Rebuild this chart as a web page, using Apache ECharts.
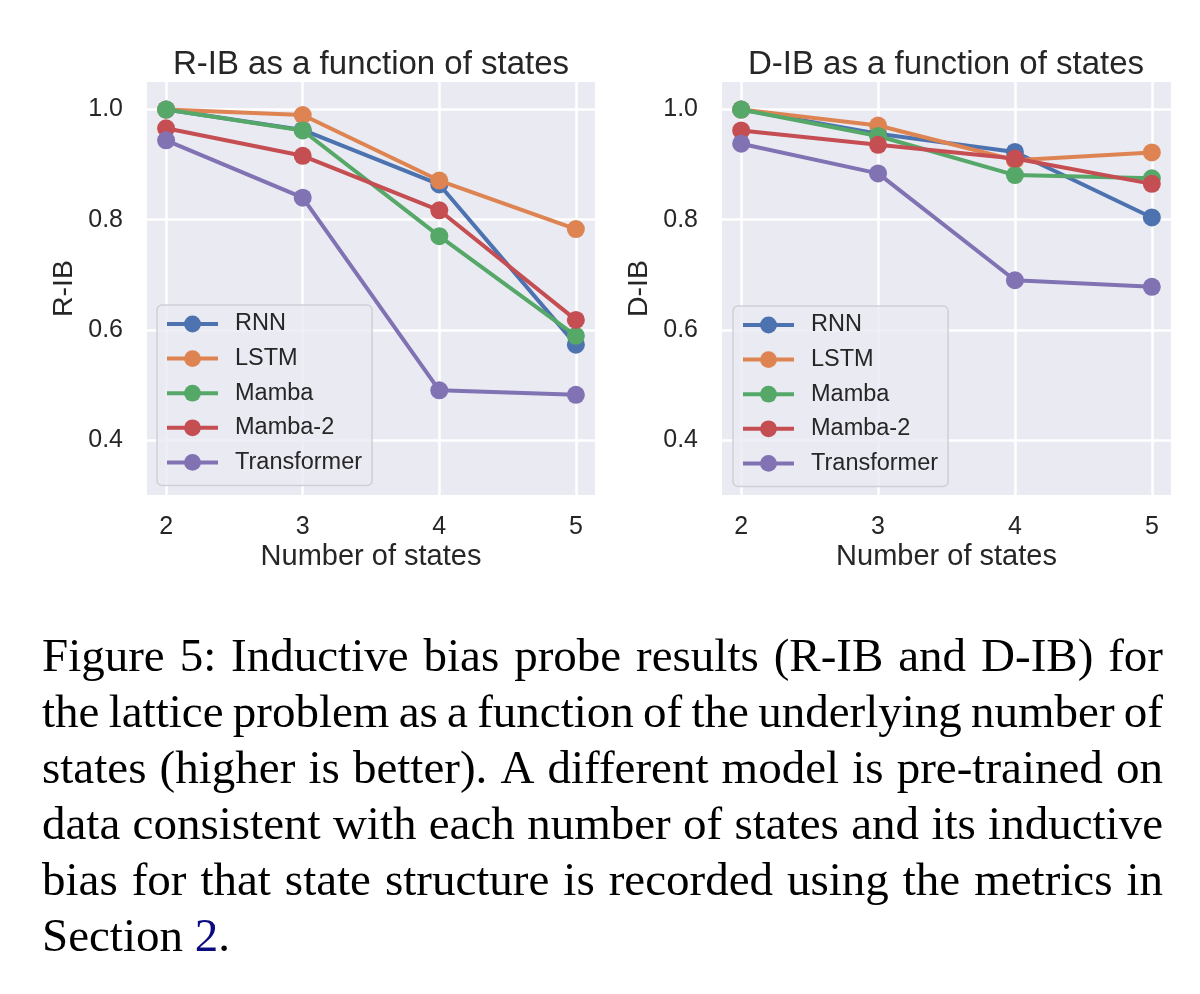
<!DOCTYPE html>
<html>
<head>
<meta charset="utf-8">
<title>Figure 5</title>
<script src="https://cdn.jsdelivr.net/npm/echarts@6/dist/echarts.min.js"></script>
<style>
  html, body { margin: 0; padding: 0; background: #fff; }
  #main { width: 1200px; height: 994px; }
</style>
</head>
<body>
<div id="main"></div>
<script>
// number of states on the x axis
var states = [2, 3, 4, 5];
var modelNames = ['RNN', 'LSTM', 'Mamba', 'Mamba-2', 'Transformer'];

// R-IB values (left panel), one array per model
var ribRNN = [1.0, 0.963, 0.864, 0.573];
var ribLSTM = [1.0, 0.990, 0.871, 0.783];
var ribMamba = [1.0, 0.962, 0.770, 0.589];
var ribMamba2 = [0.966, 0.916, 0.817, 0.618];
var ribTransformer = [0.944, 0.840, 0.490, 0.482];

// D-IB values (right panel)
var dibRNN = [1.0, 0.956, 0.923, 0.804];
var dibLSTM = [1.0, 0.971, 0.908, 0.922];
var dibMamba = [1.0, 0.952, 0.881, 0.875];
var dibMamba2 = [0.962, 0.936, 0.911, 0.865];
var dibTransformer = [0.938, 0.884, 0.690, 0.678];

var yTicks = [0.4, 0.6, 0.8, 1.0];

var captionLines = [
  'Figure 5: Inductive bias probe results (R-IB and D-IB) for',
  'the lattice problem as a function of the underlying number of',
  'states (higher is better). A different model is pre-trained on',
  'data consistent with each number of states and its inductive',
  'bias for that state structure is recorded using the metrics in'
];

var ribData = [ribRNN, ribLSTM, ribMamba, ribMamba2, ribTransformer];
var dibData = [dibRNN, dibLSTM, dibMamba, dibMamba2, dibTransformer];

// seaborn "deep" palette
var colors = ['#4C72B0', '#DD8452', '#55A868', '#C44E52', '#8172B3'];
var ink = '#262626';
var sans = '"Liberation Sans", Arial, sans-serif';
var serif = '"Liberation Serif", "Times New Roman", serif';

function pairs(vals) {
  return states.map(function (s, i) { return [s, vals[i]]; });
}

function makeX(idx) {
  return {
    type: 'value', gridIndex: idx, min: 1.86, max: 5.14,
    name: 'Number of states', nameLocation: 'middle', nameGap: 47,
    nameTextStyle: { color: ink, fontSize: 29, fontFamily: sans },
    axisLine: { show: false },
    axisTick: { show: false, customValues: states },
    axisLabel: { customValues: states, color: ink, fontSize: 25, fontFamily: sans, margin: 20 },
    splitLine: { show: true, lineStyle: { color: '#ffffff', width: 2.5 } }
  };
}

function makeY(idx, label) {
  return {
    type: 'value', gridIndex: idx, min: 0.3, max: 1.05,
    name: label, nameLocation: 'middle', nameGap: 68, nameRotate: 90,
    nameTextStyle: { color: ink, fontSize: 28.5, fontFamily: sans },
    axisLine: { show: false },
    axisTick: { show: false, customValues: yTicks },
    axisLabel: {
      customValues: yTicks, color: ink, fontSize: 25, fontFamily: sans, margin: 24,
      formatter: function (v) { return v.toFixed(1); }
    },
    splitLine: { show: true, lineStyle: { color: '#ffffff', width: 2.5 } }
  };
}

function makeLegend(left, top) {
  return {
    data: modelNames, orient: 'vertical', left: left, top: top,
    padding: [7, 10, 11, 8],
    itemWidth: 51, itemHeight: 21, itemGap: 10.6,
    backgroundColor: 'rgba(234,234,242,0.8)',
    borderColor: '#cfcfd6', borderWidth: 1.5, borderRadius: 5,
    lineStyle: { width: 4 },
    textStyle: { color: ink, fontSize: 23.5, fontFamily: sans, lineHeight: 24, padding: [0, 0, 0, 12] }
  };
}

var series = [];
[ribData, dibData].forEach(function (panel, g) {
  panel.forEach(function (vals, i) {
    series.push({
      name: modelNames[i], type: 'line',
      xAxisIndex: g, yAxisIndex: g,
      data: pairs(vals),
      symbol: 'circle', symbolSize: 18,
      lineStyle: { color: colors[i], width: 4 },
      itemStyle: { color: colors[i] },
      z: 3 + i,
      animation: false
    });
  });
});

// justified caption, one text element per word
var measureCtx = document.createElement('canvas').getContext('2d');
var capSize = 47;
var capFont = capSize + 'px ' + serif;
measureCtx.font = capFont;
var capLeft = 42, capRight = 1163, capBase = 675, capStep = 56;
var graphics = [];
captionLines.forEach(function (line, li) {
  var words = line.split(' ');
  var widths = words.map(function (w) { return measureCtx.measureText(w).width; });
  var total = widths.reduce(function (a, b) { return a + b; }, 0);
  var gap = (capRight - capLeft - total) / (words.length - 1);
  var x = capLeft;
  words.forEach(function (w, wi) {
    graphics.push({
      type: 'text', x: x, y: capBase + li * capStep - 16,
      style: { text: w, font: capFont, fill: '#000', align: 'left', verticalAlign: 'middle' }
    });
    x += widths[wi] + gap;
  });
});
graphics.push({
  type: 'text', x: capLeft, y: capBase + captionLines.length * capStep - 16,
  style: {
    text: '{a|Section }{b|2}{a|.}', font: capFont, fill: '#000', verticalAlign: 'middle',
    rich: {
      a: { fontSize: capSize, fontFamily: serif, fill: '#000', color: '#000' },
      b: { fontSize: capSize, fontFamily: serif, fill: '#0b0b80', color: '#0b0b80' }
    }
  }
});

var option = {
  backgroundColor: '#ffffff',
  animation: false,
  title: [
    { text: 'R-IB as a function of states', left: 371, top: 48, textAlign: 'center', padding: 0,
      textStyle: { color: ink, fontSize: 33, fontWeight: 'normal', fontFamily: sans, lineHeight: 33 } },
    { text: 'D-IB as a function of states', left: 946, top: 48, textAlign: 'center', padding: 0,
      textStyle: { color: ink, fontSize: 33, fontWeight: 'normal', fontFamily: sans, lineHeight: 33 } }
  ],
  grid: [
    { left: 147, top: 82, width: 448, height: 413, show: true, backgroundColor: '#EAEAF2', borderWidth: 0 },
    { left: 722, top: 82, width: 449, height: 413, show: true, backgroundColor: '#EAEAF2', borderWidth: 0 }
  ],
  xAxis: [makeX(0), makeX(1)],
  yAxis: [makeY(0, 'R-IB'), makeY(1, 'D-IB')],
  legend: [makeLegend(157, 305), makeLegend(733, 306)],
  series: series,
  graphic: graphics
};

var chart = echarts.init(document.getElementById('main'));
chart.setOption(option);
</script>
</body>
</html>
